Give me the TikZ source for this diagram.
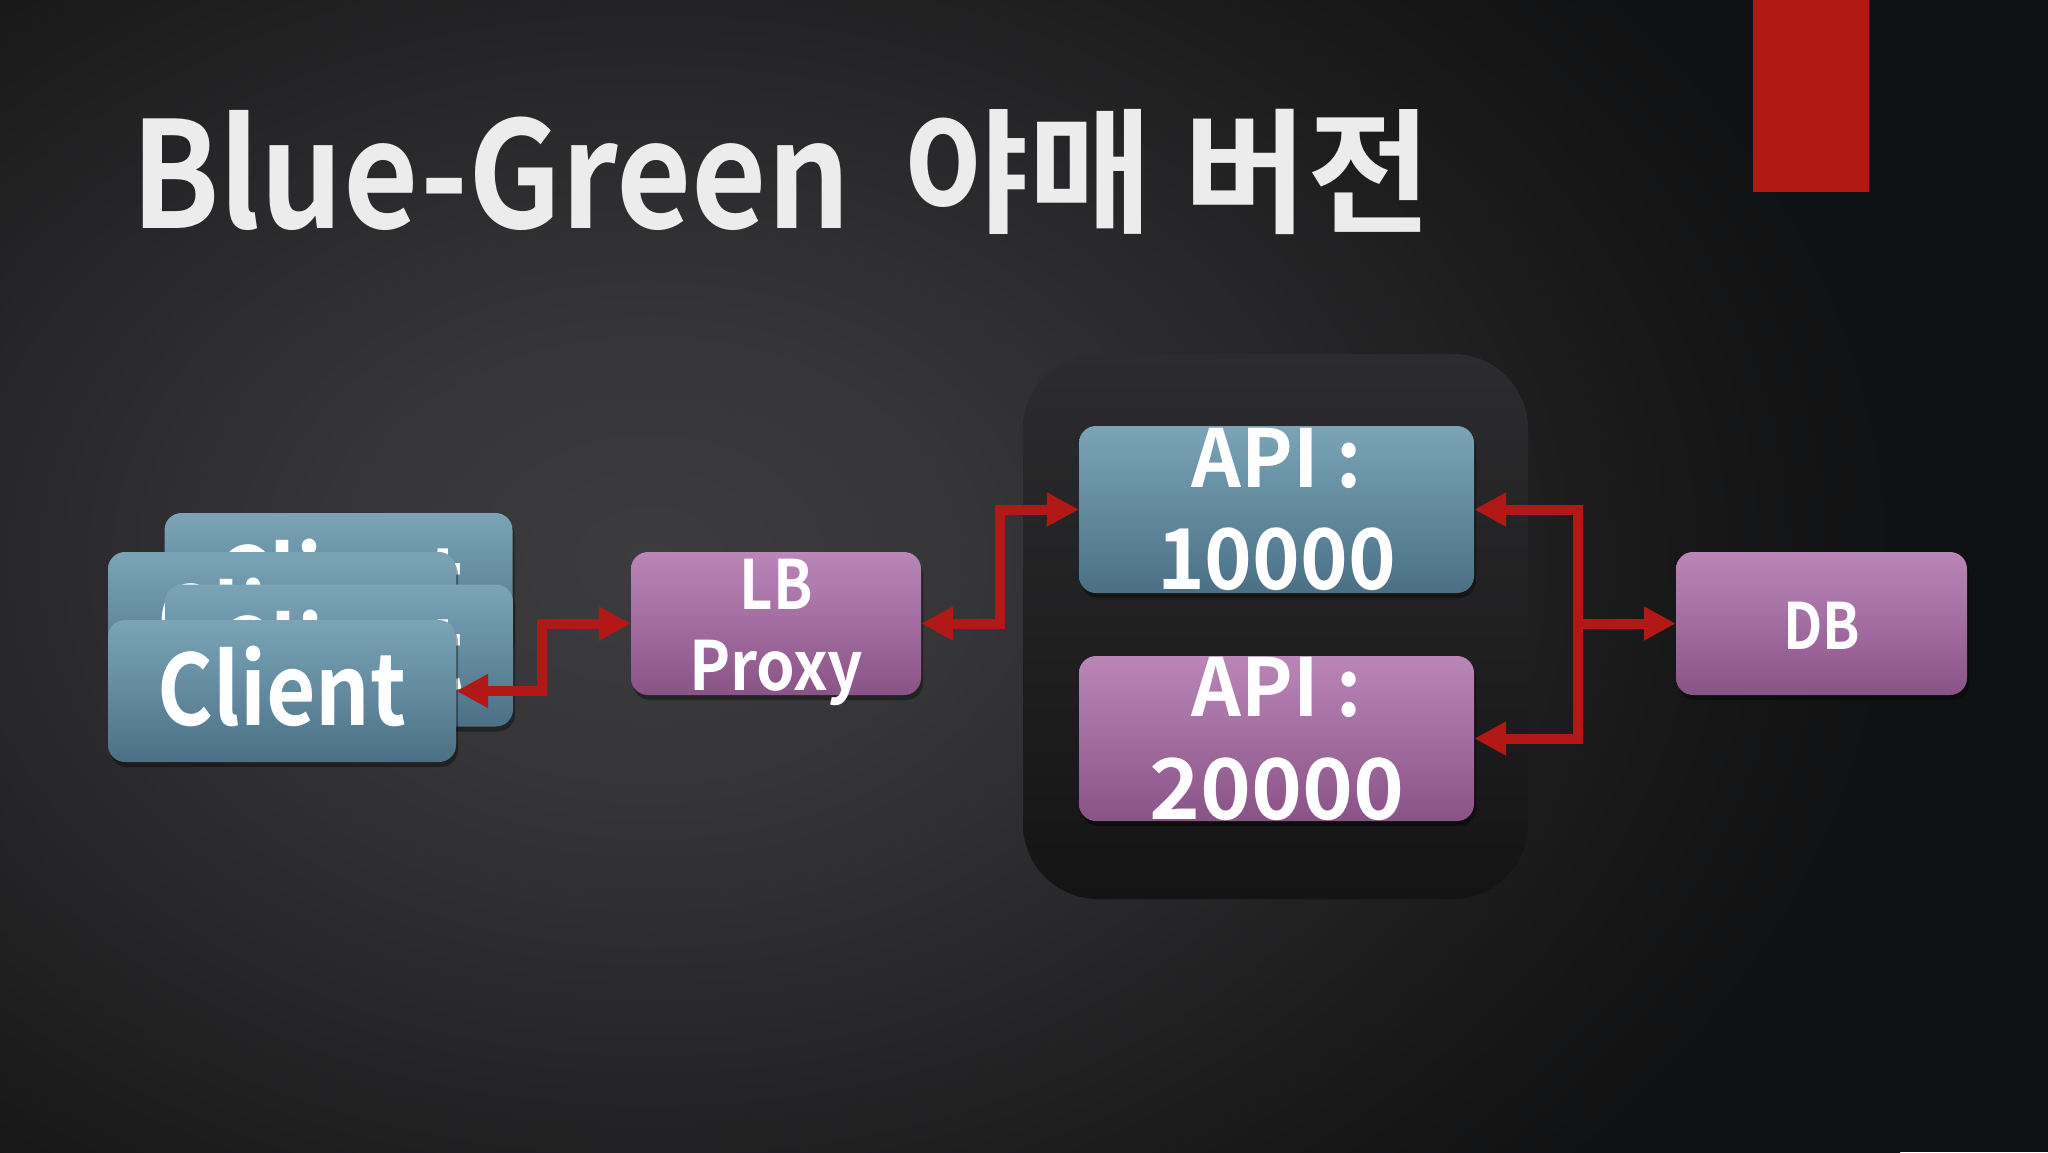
\documentclass[tikz,border=0pt]{standalone}
\usepackage{fontspec}
\usepackage{graphicx}
\usetikzlibrary{arrows.meta,shadows,calc}
\newfontfamily\krb{Noto Sans CJK KR Bold}
\definecolor{bgzero}{HTML}{3C3C3E}
\definecolor{bgone}{HTML}{363638}
\definecolor{bgtwo}{HTML}{262628}
\definecolor{bgthree}{HTML}{19191A}
\definecolor{bgfour}{HTML}{101112}
\definecolor{bluetop}{HTML}{7BA4B7}
\definecolor{bluebot}{HTML}{4B7086}
\definecolor{purptop}{HTML}{BA86B8}
\definecolor{purpbot}{HTML}{8A5387}
\definecolor{arrred}{HTML}{B21816}
\definecolor{titlecol}{HTML}{ECECEC}
\definecolor{conttop}{HTML}{2C2C2E}
\definecolor{contbot}{HTML}{141415}
\pgfdeclareradialshading{bgshade}{\pgfpoint{0bp}{0bp}}{color(0bp)=(bgzero); color(6bp)=(bgone); color(14bp)=(bgtwo); color(20bp)=(bgthree); color(25bp)=(bgfour); color(50bp)=(bgfour)}
\newcommand{\fitw}[2]{\resizebox{#1}{\height}{#2}}
\begin{document}
\begin{tikzpicture}[x=1pt,y=-1pt,
  tipx/.tip={Triangle[length=32pt,width=32pt]},
  box/.style={rectangle, rounded corners=17pt, inner sep=0pt,
    drop shadow={fill=black,shadow xshift=2pt,shadow yshift=-5pt,opacity=0.35}},
  bluebox/.style={box, top color=bluetop, bottom color=bluebot},
  purpbox/.style={box, top color=purptop, bottom color=purpbot},
  card/.style={bluebox, minimum width=348pt, minimum height=142pt},
  lbl/.style={text=white, anchor=base, inner sep=0pt},
  conn/.style={draw=arrred, line width=10pt, line join=miter},
  ttl/.style={text=titlecol, anchor=base west, inner sep=0pt}
]
\useasboundingbox (0,0) rectangle (2048,1152);
% background
\fill[bgfour] (0,0) rectangle (2048,1152);
\begin{scope}
  \clip (0,0) rectangle (2048,1152);
  \shade[shading=bgshade] (-600,-340) rectangle (1900,1460);
\end{scope}
% red bar
\fill[arrred] (1753,0) rectangle (1869,192);
% title
\node[ttl, font=\krb\fontsize{148}{150}\selectfont] (title1) at (131,228) {\fitw{719pt}{Blue-Green}};
\node[ttl, font=\krb\fontsize{135}{137}\selectfont] (title2) at (904,222) {\fitw{528pt}{야매 버전}};
% client stack
\node[card] (c1) at (338.5,584) {};
\node[lbl, font=\krb\fontsize{98}{100}\selectfont] (t1) at ($(c1.center)+(0,34)$) {\fitw{249pt}{Client}};
\node[card] (c2) at (282,623) {};
\node[lbl, font=\krb\fontsize{98}{100}\selectfont] (t2) at ($(c2.center)+(0,34)$) {\fitw{249pt}{Client}};
\node[card] (c3) at (339,655.5) {};
\node[lbl, font=\krb\fontsize{98}{100}\selectfont] (t3) at ($(c3.center)+(0,34)$) {\fitw{249pt}{Client}};
\node[card] (c4) at (282,691) {};
\node[lbl, font=\krb\fontsize{98}{100}\selectfont] (t4) at ($(c4.center)+(0,34)$) {\fitw{249pt}{Client}};
% LB
\node[purpbox, minimum width=290pt, minimum height=143pt] (lb) at (776,623.5) {};
\node[lbl, font=\krb\fontsize{68}{70}\selectfont] (tlb1) at ($(lb.center)+(0,-14.5)$) {\fitw{73pt}{LB}};
\node[lbl, font=\krb\fontsize{68}{70}\selectfont] (tlb2) at ($(lb.center)+(0,66.5)$) {\fitw{174pt}{Proxy}};
% container
\node[rectangle, rounded corners=75pt, minimum width=505pt, minimum height=545pt, top color=conttop, bottom color=contbot, inner sep=0pt] (cont) at (1275.5,626.5) {};
% APIs
\node[bluebox, minimum width=395pt, minimum height=167pt] (api1) at (1276.5,509.5) {};
\node[lbl, font=\krb\fontsize{80}{82}\selectfont] (ta1) at ($(api1.center)+(0,-22.5)$) {\fitw{170pt}{API :}};
\node[lbl, font=\krb\fontsize{84}{86}\selectfont] (ta2) at ($(api1.center)+(0,79.5)$) {\fitw{239pt}{10000}};
\node[purpbox, minimum width=395pt, minimum height=165pt] (api2) at (1276.5,738.5) {};
\node[lbl, font=\krb\fontsize{80}{82}\selectfont] (tb1) at ($(api2.center)+(0,-22.5)$) {\fitw{170pt}{API :}};
\node[lbl, font=\krb\fontsize{84}{86}\selectfont] (tb2) at ($(api2.center)+(0,80.5)$) {\fitw{255pt}{20000}};
% DB
\node[purpbox, minimum width=291pt, minimum height=143pt] (db) at (1821.5,623.5) {};
\node[lbl, font=\krb\fontsize{64}{66}\selectfont] (tdb) at ($(db.center)+(0,25.5)$) {\fitw{77pt}{DB}};
% connectors
\draw[conn, tipx-tipx] (c4.east) -- ++(86,0) |- (lb.west);
\draw[conn, tipx-tipx] (lb.east) -- ++(79,0) |- (api1.west);
\draw[conn, tipx-tipx] (api1.east) -- ++(104,0) |- (api2.east);
\coordinate (j) at (1578,623.5);
\draw[conn, -tipx] (j) -- (db.west);
\end{tikzpicture}
\end{document}
